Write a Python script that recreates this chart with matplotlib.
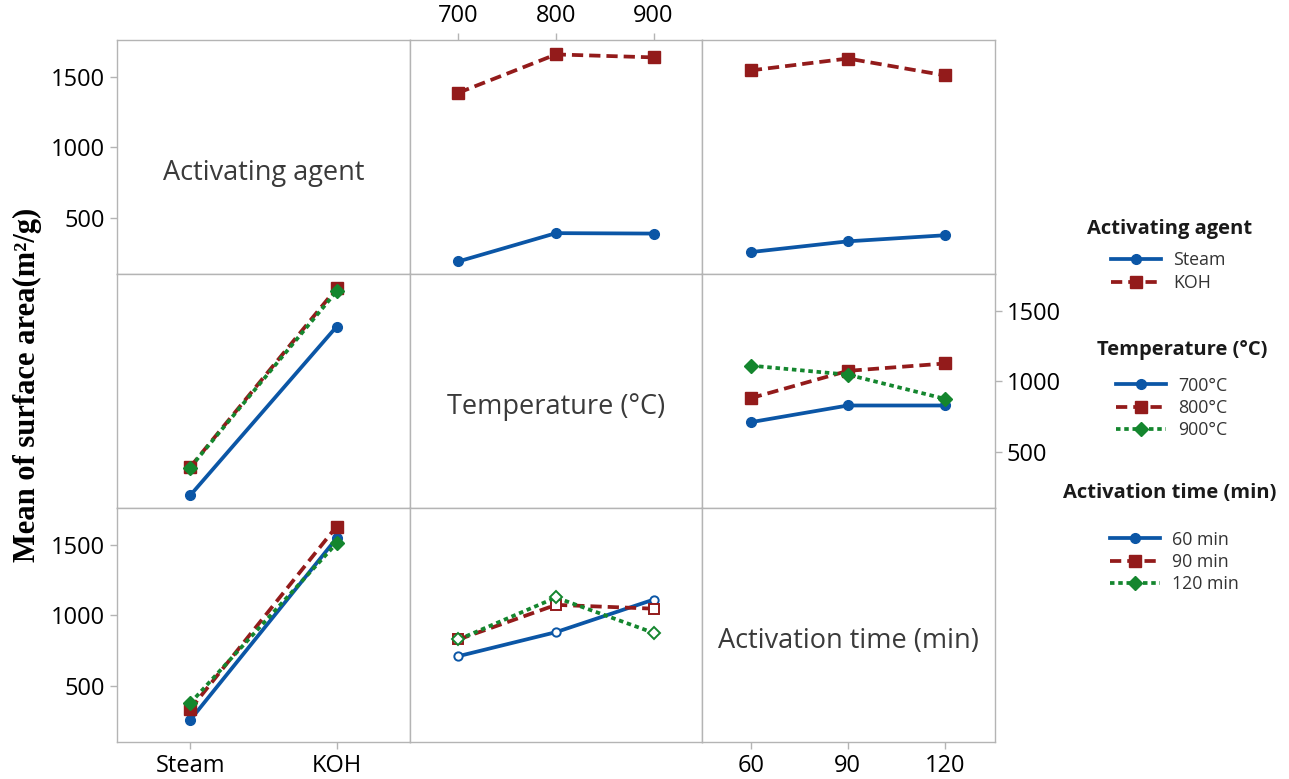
import matplotlib
matplotlib.use("Agg")
import matplotlib.pyplot as plt
from matplotlib.lines import Line2D

# ---------------- data ----------------
agents = ["Steam", "KOH"]
temps = [700, 800, 900]
times = [60, 90, 120]
temp_labels = ["700°C", "800°C", "900°C"]
time_labels = ["60 min", "90 min", "120 min"]

# mean surface area by agent (rows) x temperature (cols)
steam_by_temp = [194, 394, 391]
koh_by_temp = [1387, 1658, 1637]
# by agent x time
steam_by_time = [260, 336, 379]
koh_by_time = [1545, 1629, 1510]
# by temperature (rows) x time (cols)
t700_by_time = [712, 830, 830]
t800_by_time = [882, 1075, 1127]
t900_by_time = [1112, 1048, 877]

yticks = [500, 1000, 1500]

# ---------------- style ----------------
BLUE = "#0b56a6"
RED = "#931b1b"
GREEN = "#14862e"
GRAY = "#b4b4b4"
styles = [
    dict(color=BLUE, ls="-", marker="o", ms=7),
    dict(color=RED, ls=(0, (3, 1.6)), marker="s", ms=8.5),
    dict(color=GREEN, ls=(0, (1.2, 1.0)), marker="D", ms=7),
]
LW = 2.7

plt.rcParams["font.family"] = ["Open Sans", "DejaVu Sans"]

fig = plt.figure(figsize=(12.89, 7.79), dpi=100)
gs = fig.add_gridspec(3, 3, left=117/1289, right=995/1289,
                      top=1-40/779, bottom=1-742/779, wspace=0, hspace=0)
axes = [[fig.add_subplot(gs[r, c]) for c in range(3)] for r in range(3)]

XLIMS = [(-0.5, 1.5), (650, 950), (45, 135.5)]
YLIM = (105, 1760)

for r in range(3):
    for c in range(3):
        ax = axes[r][c]
        ax.set_xlim(*XLIMS[c])
        ax.set_ylim(*YLIM)
        for s in ax.spines.values():
            s.set_color(GRAY)
            s.set_linewidth(1.0)
        ax.tick_params(axis="both", which="both", length=0, labelleft=False,
                       labelbottom=False, labeltop=False, labelright=False,
                       color=GRAY, labelsize=17, labelcolor="black", width=1.0)


def draw(ax, x, ys, hollow=False):
    for i, y in enumerate(ys):
        st = styles[i]
        kw = dict(color=st["color"], ls=st["ls"], marker=st["marker"],
                  ms=st["ms"], lw=LW, markeredgecolor=st["color"])
        if hollow:
            kw["markerfacecolor"] = "white"
            kw["ms"] = st["ms"] - 1
            kw["markeredgewidth"] = 1.4
        ax.plot(x, y, **kw)


xa = [0, 1]
# row 1: lines = activating agent
draw(axes[0][1], temps, [steam_by_temp, koh_by_temp])
draw(axes[0][2], times, [steam_by_time, koh_by_time])
# row 2: lines = temperature
by_temp = [list(t) for t in zip(steam_by_temp, koh_by_temp)]
draw(axes[1][0], xa, by_temp)
draw(axes[1][2], times, [t700_by_time, t800_by_time, t900_by_time])
# row 3: lines = activation time
by_time_agent = [list(t) for t in zip(steam_by_time, koh_by_time)]
draw(axes[2][0], xa, by_time_agent)
by_time_temp = [list(t) for t in zip(t700_by_time, t800_by_time, t900_by_time)]
draw(axes[2][1], temps, by_time_temp, hollow=True)

# diagonal titles
titles = ["Activating agent", "Temperature (°C)", "Activation time (min)"]
for i in range(3):
    axes[i][i].text(0.5, 0.43, titles[i], transform=axes[i][i].transAxes,
                    ha="center", va="center", fontsize=19.5, color="#3a3a3a")

# ticks
ax = axes[0][0]
ax.set_yticks(yticks)
ax.tick_params(axis="y", left=True, labelleft=True, length=5)
ax.set_xticks([])

ax = axes[0][1]
ax.set_xticks(temps)
ax.xaxis.set_ticks_position("top")
ax.tick_params(axis="x", top=True, labeltop=True, bottom=False, length=5)
ax.set_yticks([])

ax = axes[1][2]
ax.set_yticks(yticks)
ax.yaxis.set_ticks_position("right")
ax.tick_params(axis="y", right=True, labelright=True, left=False, length=5)
ax.set_xticks([])

ax = axes[2][0]
ax.set_yticks(yticks)
ax.set_xticks(xa)
ax.set_xticklabels(agents)
ax.tick_params(axis="both", left=True, bottom=True, labelleft=True,
               labelbottom=True, length=5)

ax = axes[2][2]
ax.set_xticks(times)
ax.tick_params(axis="x", bottom=True, labelbottom=True, length=5)
ax.set_yticks([])

for (r, c) in [(0, 2), (1, 0), (1, 1), (2, 1)]:
    axes[r][c].set_xticks([])
    axes[r][c].set_yticks([])
axes[0][0].set_xticks([])
axes[2][2].set_yticks([])
axes[1][1].set_xticks([])

# y label
fig.text(27/1289, 1-385/779, "Mean of surface area(m²/g)", rotation=90,
         ha="center", va="center", fontsize=22, fontweight="bold",
         family=["Liberation Serif", "DejaVu Serif"])

# legends
def handles(n):
    hs = []
    for i in range(n):
        st = styles[i]
        hs.append(Line2D([], [], color=st["color"], ls=st["ls"], marker=st["marker"],
                         ms=st["ms"], lw=LW))
    return hs

leg_specs = [
    ("Activating agent", (1170, 229), agents, (1111, 271.5)),
    ("Temperature (°C)", (1182, 350), temp_labels, (1116, 408)),
    ("Activation time (min)", (1170, 493), time_labels, (1110, 562)),
]
for title, (tx, ty), labels, (lx, ly) in leg_specs:
    fig.text(tx/1289, 1-ty/779, title, ha="center", va="center",
             fontsize=14.5, fontweight="bold", color="#1a1a1a")
    leg = fig.legend(handles(len(labels)), labels, loc="center left",
                     bbox_to_anchor=(lx/1289, 1-ly/779), frameon=False,
                     fontsize=12.8, labelspacing=0.25, handlelength=2.8,
                     handletextpad=0.7, borderpad=0, borderaxespad=0)
    for t in leg.get_texts():
        t.set_color("#333333")

fig.savefig("out.png", dpi=100)
